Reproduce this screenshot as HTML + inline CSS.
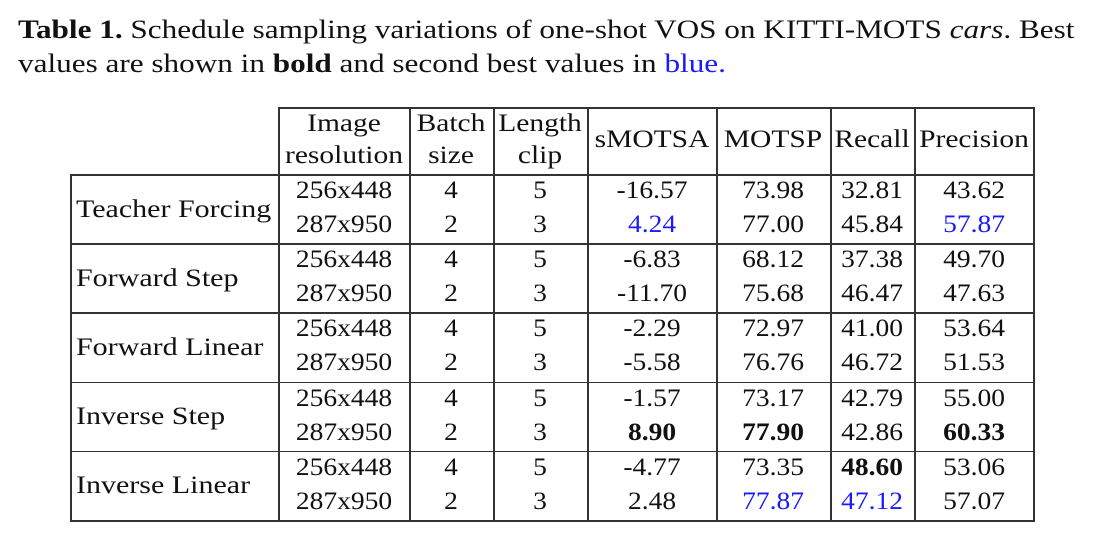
<!DOCTYPE html>
<html><head><meta charset="utf-8"><style>
body{margin:0;background:#fff;width:1098px;height:539px;position:relative;overflow:hidden;font-family:"Liberation Serif",serif;color:#111}
.t{position:absolute;white-space:nowrap;font-size:25px;line-height:30px;transform:translate(-50%,-50%) scaleX(1.1)}
.tw{transform:translate(-50%,-50%) scaleX(1.18)}
.l{position:absolute;white-space:nowrap;font-size:25px;line-height:30px;transform:translateY(-50%) scaleX(1.2);transform-origin:left center}
.h{position:absolute;height:1.6px;background:#333}
.v{position:absolute;width:1.6px;background:#333}
.cap{position:absolute;left:18px;font-size:26px;white-space:nowrap;transform:scaleX(1.2);transform-origin:left top}
.b{font-weight:bold}.bl{color:#1a1aff}
</style></head><body>
<div class="cap" style="top:15px"><b>Table 1.</b> Schedule sampling variations of one-shot VOS on KITTI-MOTS <i>cars</i>. Best</div>
<div class="cap" style="top:49px">values are shown in <b>bold</b> and second best values in <span class="bl">blue.</span></div>
<div id="tbl"></div>
<script>
const methods=["Teacher Forcing","Forward Step","Forward Linear","Inverse Step","Inverse Linear"];
const resolutions=["256x448","287x950"];
const batch=["4","2"];
const clip=["5","3"];
const smotsa=[["-16.57","4.24"],["-6.83","-11.70"],["-2.29","-5.58"],["-1.57","8.90"],["-4.77","2.48"]];
const motsp=[["73.98","77.00"],["68.12","75.68"],["72.97","76.76"],["73.17","77.90"],["73.35","77.87"]];
const recall=[["32.81","45.84"],["37.38","46.47"],["41.00","46.72"],["42.79","42.86"],["48.60","47.12"]];
const precision=[["43.62","57.87"],["49.70","47.63"],["53.64","51.53"],["55.00","60.33"],["53.06","57.07"]];
const styleMap={"4.24":"bl","57.87":"bl","8.90":"b","77.90":"b","60.33":"b","48.60":"b","77.87":"bl","47.12":"bl"};
const B=document.body;
function add(cls,css,txt,name){const e=document.createElement('div');e.className=cls;e.style.cssText=css;if(txt!==undefined)e.textContent=txt;


B.appendChild(e);return e;}
const cols=[70,278,409,493,587,716,830,914,1033];
const centers=[];for(let i=1;i<8;i++)centers.push((cols[i]+cols[i+1])/2);
const top0=107,hdrB=174,grpH=69.2;
add('h',`left:${cols[1]}px;top:${top0}px;width:${cols[8]-cols[1]+1.6}px`,undefined,'table-top-rule');
for(let g=0;g<=methods.length;g++){const y=hdrB+g*grpH;add('h',`left:${cols[0]}px;top:${y}px;width:${cols[8]-cols[0]+1.6}px`,undefined,'row-rule');}
const bottom=hdrB+methods.length*grpH;
cols.forEach((x,i)=>{const t=i===0?hdrB:top0;add('v',`left:${x}px;top:${t}px;height:${bottom-t+1.6}px`,undefined,'column-rule');});
const hdr2=[["Image","resolution"],["Batch","size"],["Length","clip"]];
hdr2.forEach((h,i)=>{add('t tw',`left:${centers[i]}px;top:124px`,h[0],'header-'+h[0].toLowerCase());add('t tw',`left:${centers[i]}px;top:156px`,h[1],'header-'+h[1].toLowerCase());});
["sMOTSA","MOTSP","Recall","Precision"].forEach((h,i)=>add('t tw',`left:${centers[i+3]}px;top:140px`,h,'header-'+h.toLowerCase()));
methods.forEach((m,g)=>{
  const y0=hdrB+g*grpH;
  add('l',`left:76px;top:${y0+grpH/2+1}px`,m,'method-label');
  for(let r=0;r<2;r++){
    const y=y0+17+r*34;
    const vals=[resolutions[r],batch[r],clip[r],smotsa[g][r],motsp[g][r],recall[g][r],precision[g][r]];
    vals.forEach((v,c)=>{const e=add('t',`left:${centers[c]}px;top:${y}px`,v,'cell-value');if(c>=3&&styleMap[v])e.classList.add(styleMap[v]);});
  }
});
</script>
</body></html>
